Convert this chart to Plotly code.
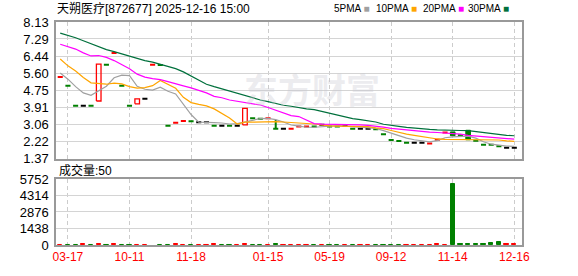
import plotly.graph_objects as go

# ---------------- data ----------------
bar_idx = list(range(60))
opens = [5.41, 4.98, 3.99, 3.99, 3.99, 4.22, 6.02, 6.60, 4.98, 3.99,
         4.08, 4.33, 6.02, 6.00, 3.00, 3.14, 3.23, 3.22, 3.17, 3.17,
         3.00, 3.00, 3.00, 3.00, 3.04, 3.37, 3.34, 3.37, 2.85, 2.85,
         2.85, 2.96, 2.96, 2.96, 3.04, 2.96, 2.96, 2.98, 2.85, 2.85,
         2.85, 2.82, 2.57, 2.29, 2.24, 2.15, 2.15, 2.15, 2.11, 2.30,
         2.66, 2.69, 2.52, 2.77, 2.25, 2.06, 2.06, 1.98, 1.91, 1.91]
closes = [5.41, 4.98, 3.99, 3.99, 3.99, 6.04, 6.02, 6.60, 4.98, 3.99,
          4.32, 4.33, 6.02, 6.00, 3.00, 3.14, 3.23, 3.22, 3.17, 3.17,
          3.00, 3.00, 3.00, 3.00, 3.85, 3.37, 3.34, 3.37, 2.85, 2.85,
          2.85, 2.96, 2.96, 2.96, 3.04, 2.96, 2.96, 2.98, 2.85, 2.85,
          2.85, 2.82, 2.57, 2.29, 2.24, 2.15, 2.15, 2.15, 2.11, 2.30,
          2.66, 2.50, 2.52, 2.30, 2.25, 2.06, 2.06, 1.98, 1.91, 1.91]
highs = [5.41, 4.98, 3.99, 3.99, 3.99, 6.04, 6.02, 6.60, 4.98, 3.99,
         4.32, 4.33, 6.02, 6.00, 3.00, 3.14, 3.23, 3.22, 3.17, 3.17,
         3.00, 3.00, 3.00, 3.00, 3.85, 3.37, 3.34, 3.37, 3.28, 2.85,
         2.85, 2.96, 2.96, 2.96, 3.04, 2.96, 2.96, 2.98, 2.85, 2.85,
         2.85, 2.82, 2.57, 2.29, 2.24, 2.15, 2.15, 2.15, 2.11, 2.30,
         2.66, 2.69, 2.52, 2.77, 2.25, 2.06, 2.06, 1.98, 1.91, 1.91]
candle_color = ['r', 'g', 'g', 'k', 'g', 'r', 'g', 'r', 'g', 'g',
                'r', 'k', 'r', 'g', 'g', 'r', 'r', 'g', 'k', 'k',
                'g', 'k', 'g', 'k', 'r', 'g', 'g', 'r', 'g', 'k',
                'r', 'r', 'r', 'g', 'k', 'g', 'g', 'k', 'g', 'k',
                'k', 'g', 'g', 'g', 'g', 'g', 'k', 'k', 'r', 'r',
                'r', 'g', 'g', 'g', 'g', 'g', 'g', 'g', 'k', 'k']

ma5 = [5.61, 5.30, 4.93, 4.62, 4.50, 4.72, 4.95, 5.37, 5.50, 5.48,
       4.95, 4.80, 4.76, 4.90, 4.70, 4.57, 4.05, 3.55, 3.17, 3.17,
       3.15, 3.13, 3.08, 3.10, 3.19, 3.28, 3.35, 3.36, 3.30, 3.18,
       3.03, 2.98, 2.92, 2.92, 2.95, 2.98, 3.00, 2.98, 2.95, 2.93,
       2.91, 2.86, 2.75, 2.62, 2.48, 2.38, 2.30, 2.24, 2.20, 2.26,
       2.40, 2.44, 2.46, 2.48, 2.38, 2.20, 2.08, 2.03, 1.99, 1.97]
ma10 = [6.30, 5.96, 5.70, 5.38, 5.12, 5.09, 5.05, 5.10, 5.07, 4.93,
        4.86, 4.88, 4.98, 5.24, 5.06, 4.85, 4.40, 4.14, 4.05, 3.98,
        3.83, 3.60, 3.38, 3.08, 3.17, 3.17, 3.18, 3.20, 3.20, 3.18,
        3.16, 3.14, 3.12, 3.08, 3.04, 2.99, 2.98, 2.98, 2.97, 2.97,
        2.95, 2.89, 2.85, 2.76, 2.66, 2.58, 2.52, 2.45, 2.40, 2.34,
        2.32, 2.32, 2.32, 2.32, 2.31, 2.31, 2.30, 2.29, 2.25, 2.22]
ma20 = [7.03, 6.91, 6.79, 6.60, 6.45, 6.47, 6.38, 6.22, 6.03, 5.82,
        5.55, 5.40, 5.33, 5.28, 5.18, 5.06, 4.97, 4.87, 4.74, 4.62,
        4.45, 4.38, 4.27, 4.20, 4.15, 4.08, 4.02, 3.90, 3.76, 3.62,
        3.50, 3.45, 3.26, 3.10, 3.07, 3.07, 3.07, 3.07, 3.05, 3.04,
        3.01, 2.98, 2.93, 2.86, 2.82, 2.79, 2.75, 2.71, 2.68, 2.66,
        2.64, 2.62, 2.58, 2.52, 2.49, 2.46, 2.43, 2.40, 2.36, 2.33]
ma30 = [7.58, 7.47, 7.35, 7.20, 7.05, 6.88, 6.76, 6.66, 6.55, 6.43,
        6.31, 6.22, 6.14, 6.04, 5.94, 5.82, 5.66, 5.47, 5.27, 5.05,
        4.93, 4.82, 4.70, 4.57, 4.47, 4.38, 4.27, 4.19, 4.10, 4.01,
        3.96, 3.88, 3.83, 3.79, 3.70, 3.62, 3.52, 3.41, 3.35, 3.30,
        3.25, 3.18, 3.07, 3.00, 2.96, 2.91, 2.87, 2.84, 2.81, 2.79,
        2.77, 2.76, 2.76, 2.75, 2.70, 2.65, 2.60, 2.55, 2.52, 2.50]

volume = [40, 30, 35, 45, 30, 60, 40, 50, 30, 35,
          40, 30, 0, 35, 40, 45, 40, 30, 35, 40,
          45, 30, 35, 40, 60, 35, 30, 40, 45, 35,
          40, 35, 40, 30, 35, 40, 30, 35, 40, 30,
          35, 40, 30, 35, 40, 35, 30, 40, 35, 45,
          40, 5330, 60, 80, 50, 60, 170, 250, 45, 50]
volume_color = ['r', 'g', 'g', 'r', 'g', 'r', 'g', 'r', 'g', 'g',
                'r', 'r', 'r', 'g', 'g', 'r', 'r', 'g', 'r', 'r',
                'r', 'g', 'g', 'r', 'r', 'g', 'g', 'r', 'g', 'r',
                'r', 'r', 'r', 'g', 'r', 'g', 'g', 'r', 'g', 'r',
                'r', 'g', 'g', 'g', 'g', 'r', 'r', 'r', 'r', 'r',
                'r', 'g', 'g', 'g', 'g', 'g', 'g', 'g', 'r', 'r']

x_tick_idx = [1, 9, 17, 27, 35, 43, 51, 59]
x_tick_text = ["03-17", "10-11", "11-18", "01-15", "05-19", "09-12", "11-14", "12-16"]
price_ticks = [1.37, 2.22, 3.06, 3.91, 4.75, 5.60, 6.44, 7.29, 8.13]
vol_ticks = [0, 1438, 2876, 4314, 5752]

ma_names = ["5PMA", "10PMA", "20PMA", "30PMA"]
title_text = "天朔医疗[872677] 2025-12-16 15:00"
vol_label = "成交量:50"

# ---------------- styling ----------------
COL = {'r': '#FF0000', 'g': '#008000', 'k': '#000000'}
MA_COL = ['#A0A0A0', '#FFA500', '#FF00FF', '#00703C']
HALF = 0.33
FONT = "Arial, Liberation Sans, Noto Sans CJK SC"

fig = go.Figure()

# flat candles (dashes) and wicks, grouped by colour
for key in ['r', 'g', 'k']:
    xs, ys = [], []
    for i in bar_idx:
        if candle_color[i] != key:
            continue
        o, c, h = opens[i], closes[i], highs[i]
        if o == c:
            xs += [i - HALF, i + HALF, None]
            ys += [o, o, None]
        if h > max(o, c):
            xs += [i, i, None]
            ys += [max(o, c), h, None]
    if xs:
        fig.add_trace(go.Scatter(x=xs, y=ys, mode='lines', xaxis='x', yaxis='y',
                                 line=dict(color=COL[key], width=2), hoverinfo='skip',
                                 showlegend=False))

# body boxes
for key in ['r', 'g']:
    xs, ys = [], []
    for i in bar_idx:
        if candle_color[i] != key or opens[i] == closes[i]:
            continue
        lo, hi = min(opens[i], closes[i]), max(opens[i], closes[i])
        xs += [i - 0.3, i + 0.3, i + 0.3, i - 0.3, i - 0.3, None]
        ys += [lo, lo, hi, hi, lo, None]
    if xs:
        if key == 'r':
            fig.add_trace(go.Scatter(x=xs, y=ys, mode='lines', xaxis='x', yaxis='y',
                                     line=dict(color=COL[key], width=1.3),
                                     hoverinfo='skip', showlegend=False))
        else:
            fig.add_trace(go.Scatter(x=xs, y=ys, mode='lines', xaxis='x', yaxis='y',
                                     fill='toself', fillcolor=COL[key],
                                     line=dict(color=COL[key], width=1),
                                     hoverinfo='skip', showlegend=False))

# moving averages
for ma, col in zip([ma5, ma10, ma20, ma30], MA_COL):
    fig.add_trace(go.Scatter(x=bar_idx, y=ma, mode='lines', xaxis='x', yaxis='y',
                             line=dict(color=col, width=1.2), hoverinfo='skip',
                             showlegend=False))

# volume bars
vx = [i for i in bar_idx if volume[i] > 0]
vy = [volume[i] for i in vx]
vcols = [COL[volume_color[i]] for i in vx]
fig.add_trace(go.Bar(x=vx, y=vy, xaxis='x2', yaxis='y2', width=0.55,
                     marker=dict(color=vcols, line=dict(color=vcols, width=1)),
                     hoverinfo='skip', showlegend=False))

axis_common = dict(showline=True, linecolor='#999999', linewidth=1.5, mirror=True,
                   zeroline=False, ticks='')

fig.update_layout(
    width=578, height=276,
    margin=dict(l=56, r=56, t=22, b=21),
    paper_bgcolor='white', plot_bgcolor='white',
    font=dict(family=FONT, size=12, color='#000000'),
    bargap=0,
    xaxis=dict(domain=[0, 1], anchor='y', range=[-0.55, 60.0],
               tickvals=x_tick_idx, showticklabels=False,
               showgrid=True, gridcolor='#CCCCCC', griddash='4px,3px', gridwidth=1,
               **axis_common),
    xaxis2=dict(domain=[0, 1], anchor='y2', range=[-0.55, 60.0],
                tickvals=x_tick_idx, ticktext=x_tick_text,
                tickfont=dict(color='#FF0000', size=12, family=FONT),
                showgrid=True, gridcolor='#CCCCCC', griddash='4px,3px', gridwidth=1,
                **axis_common),
    yaxis=dict(domain=[0.3876, 1], anchor='x', range=[1.37, 8.13],
               tickvals=price_ticks, ticktext=[f"{v:.2f}" for v in price_ticks],
               tickfont=dict(size=13, color='#000000'),
               showgrid=True, gridcolor='#D4D4D4', gridwidth=1, ticklabelstandoff=3,
               **axis_common),
    yaxis2=dict(domain=[0, 0.296], anchor='x2', range=[0, 5752],
                tickvals=vol_ticks, ticktext=[str(v) for v in vol_ticks],
                tickfont=dict(size=13, color='#000000'),
                showgrid=True, gridcolor='#D4D4D4', gridwidth=1, ticklabelstandoff=3,
                **axis_common),
)

# legend items positioned individually (paper x of each item's right edge)
legend_right = [0.679, 0.780, 0.879, 0.977]
for name, col, xr in zip(ma_names, MA_COL, legend_right):
    fig.add_annotation(text=f"{name} <span style='color:{col}'>■</span>",
                       xref='paper', yref='paper', x=xr, y=1.062,
                       xanchor='right', yanchor='middle', showarrow=False,
                       font=dict(size=10, color='#000000', family="Liberation Sans, Arial"))

fig.add_annotation(text=title_text, xref='paper', yref='paper', x=-0.002, y=1.062,
                   xanchor='left', yanchor='middle', showarrow=False,
                   font=dict(size=12, color='#000000'))
fig.add_annotation(text=vol_label, xref='paper', yref='paper', x=0.002, y=0.332,
                   xanchor='left', yanchor='middle', showarrow=False,
                   font=dict(size=12, color='#000000'))
fig.add_annotation(text="<b>东方财富</b>", xref='paper', yref='paper', x=0.55, y=0.70,
                   xanchor='center', yanchor='middle', showarrow=False,
                   font=dict(size=34, color='rgba(200,200,210,0.35)',
                             family="Noto Sans CJK SC"))

fig.write_html("out.html")
